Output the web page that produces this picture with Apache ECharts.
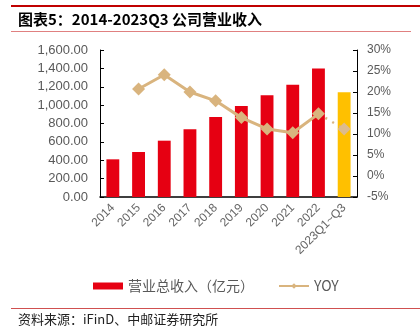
<!DOCTYPE html>
<html><head><meta charset="utf-8">
<script src="https://cdn.jsdelivr.net/npm/echarts@6/dist/echarts.min.js"></script>
<style>html,body{margin:0;padding:0;background:#fff}#c{width:420px;height:330px}</style>
</head><body><div id="c"></div>
<script>
var categories = ['2014','2015','2016','2017','2018','2019','2020','2021','2022','2023Q1~Q3'];
var revenue = [410, 490, 613, 737, 870, 990, 1107, 1222, 1400, 1139];
var yoy = [null, 20.7, 24.1, 20.0, 17.9, 13.9, 11.2, 10.3, 14.8, 11.2];
var leftTicks = {min: 0, max: 1600, interval: 200};
var rightTicks = {min: -5, max: 30, interval: 5};
var titleText = '图表5：2014-2023Q3 公司营业收入';
var sourceText = '资料来源：iFinD、中邮证券研究所';
var barName = '营业总收入（亿元）';
var lineName = 'YOY';

var red = '#E60012', yellow = '#FFC000', tan = '#D9B47E', grey = '#595959';
var n = categories.length;
var barData = revenue.map(function (v, i) {
  return i === n - 1 ? {value: v, itemStyle: {color: yellow}} : v;
});
var solidYoy = yoy.map(function (v, i) { return i < n - 1 ? v : null; });
var dottedYoy = yoy.map(function (v, i) {
  if (i === n - 2) return {value: v, symbol: 'none'};
  if (i === n - 1) return v;
  return null;
});
var font = 'Liberation Sans, Arial, sans-serif';
var chart = echarts.init(document.getElementById('c'), null, {renderer: 'canvas'});
chart.setOption({
  animation: false,
  backgroundColor: '#fff',
  grid: {left: 100, right: 63, top: 50, bottom: 133},
  legend: {
    data: [{name: barName, icon: 'rect'}, {name: lineName}],
    left: 88, top: 274, itemGap: 24, itemWidth: 30, itemHeight: 7,
    textStyle: {color: grey, fontSize: 14, fontFamily: 'Noto Sans CJK SC'}
  },
  xAxis: {
    type: 'category', data: categories,
    axisLine: {lineStyle: {color: '#000', width: 1.5}},
    axisTick: {inside: true, length: 4, lineStyle: {color: '#000'}},
    axisLabel: {rotate: 45, color: '#666', fontSize: 12, fontFamily: font, margin: 9, interval: 0}
  },
  yAxis: [{
    type: 'value', min: leftTicks.min, max: leftTicks.max, interval: leftTicks.interval,
    axisLine: {show: true, lineStyle: {color: '#000'}},
    axisTick: {show: true, inside: true, length: 4, lineStyle: {color: '#000'}},
    splitLine: {show: false},
    axisLabel: {color: grey, fontSize: 13, fontFamily: font, margin: 12,
      formatter: function (v) { return v.toLocaleString('en-US', {minimumFractionDigits: 2, maximumFractionDigits: 2}); }}
  }, {
    type: 'value', min: rightTicks.min, max: rightTicks.max, interval: rightTicks.interval,
    axisLine: {show: true, lineStyle: {color: '#000'}},
    axisTick: {show: true, inside: true, length: 4, lineStyle: {color: '#000'}},
    splitLine: {show: false},
    axisLabel: {color: grey, fontSize: 12, fontFamily: font, margin: 10, formatter: '{value}%'}
  }],
  series: [{
    name: barName, type: 'bar', data: barData, barWidth: '50%',
    itemStyle: {color: red}
  }, {
    name: lineName, type: 'line', yAxisIndex: 1, data: solidYoy,
    symbol: 'diamond', symbolSize: 13, connectNulls: false,
    lineStyle: {color: tan, width: 3}, itemStyle: {color: tan}
  }, {
    name: 'yoy-est', type: 'line', yAxisIndex: 1, data: dottedYoy,
    symbol: 'diamond', symbolSize: 13,
    lineStyle: {color: tan, width: 2.5, type: [2, 6]}, itemStyle: {color: '#DDBB8E'}
  }],
  graphic: [
    {type: 'rect', shape: {x: 11, y: 5, width: 409, height: 2}, style: {fill: '#C00000'}},
    {type: 'text', left: 18, top: 12, style: {text: titleText, fill: '#000', font: 'bold 15px "Noto Sans CJK SC"'}},
    {type: 'rect', shape: {x: 11, y: 31, width: 400, height: 1}, style: {fill: '#E08080'}},
    {type: 'rect', shape: {x: 11, y: 308, width: 409, height: 1}, style: {fill: '#D05050'}},
    {type: 'text', left: 18, top: 313, style: {text: sourceText, fill: '#222', font: '13px "Noto Sans CJK SC"'}}
  ]
});
</script></body></html>
